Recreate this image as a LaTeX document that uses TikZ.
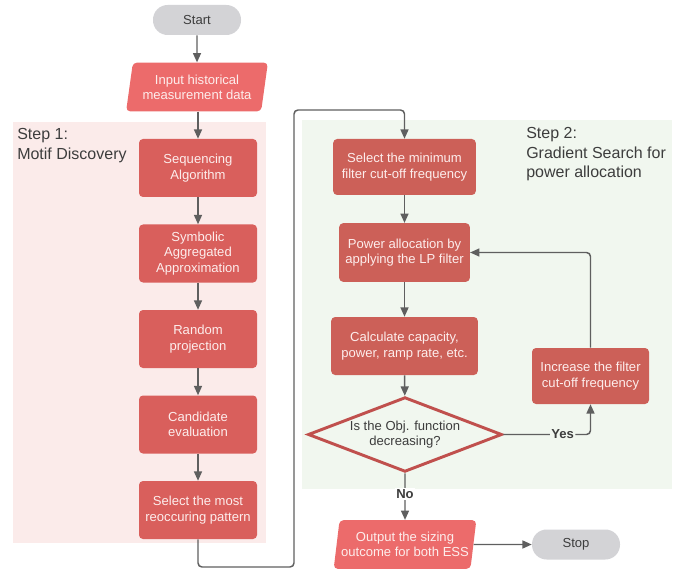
\documentclass[tikz,border=0pt]{standalone}
\usepackage{fontspec}
\setmainfont{Liberation Sans}
\usetikzlibrary{shapes.geometric,arrows.meta}

\definecolor{stepAbg}{HTML}{FBEBEA}
\definecolor{stepBbg}{HTML}{F1F7EF}
\definecolor{boxA}{HTML}{D95F5C}
\definecolor{boxB}{HTML}{CC6058}
\definecolor{ioRed}{HTML}{EC6B6B}
\definecolor{termGray}{HTML}{D3D3D6}
\definecolor{lineGray}{HTML}{5F5F5F}
\definecolor{boxText}{HTML}{FDEDEC}
\definecolor{darkText}{HTML}{3D3D3D}
\definecolor{decRed}{HTML}{C0504D}

\tikzset{
  boxfont/.style={font=\fontsize{9.8}{11.5}\selectfont},
  procA/.style={boxfont, rectangle, rounded corners=3pt, fill=boxA, text=boxText,
    align=center, minimum width=88.5pt, minimum height=43.5pt, inner sep=1pt},
  procB/.style={procA, fill=boxB},
  inout/.style={boxfont, trapezium, trapezium left angle=77, trapezium right angle=103,
    trapezium stretches=true, rounded corners=3pt, fill=ioRed, text=boxText,
    align=center, minimum width=107pt, minimum height=36.5pt, inner sep=0pt},
  term/.style={boxfont, rectangle, rounded corners=11pt, fill=termGray, text=darkText,
    minimum width=66pt, minimum height=22.5pt},
  decide/.style={boxfont, diamond, aspect=2.6, draw=decRed, line width=2.2pt, fill=stepBbg,
    text=darkText, align=center, inner sep=0pt, minimum width=145.5pt, minimum height=56pt},
  flow/.style={draw=lineGray, line width=1.1pt, -{Triangle[length=7pt,width=6pt]}},
  steplabel/.style={anchor=north west, align=left, text=darkText, inner sep=0pt,
    font=\fontsize{12}{14.8}\selectfont},
  answer/.style={boxfont, font=\fontsize{9.8}{11.5}\selectfont\bfseries, text=darkText, inner sep=1pt}
}

\begin{document}
\begin{tikzpicture}[x=0.75pt,y=0.75pt,yscale=-1,xscale=1]
\path (0,0) rectangle (692,570); %set diagram size 692 x 570

%Step backgrounds
\fill[stepAbg] (13,122) rectangle (266,543);
\fill[stepBbg] (302,120) rectangle (672,489);

% Text Node
\node (stepA) [steplabel] at (17,128) {Step 1:\\Motif Discovery};
% Text Node
\node (stepB) [steplabel] at (526,127) {Step 2:\\Gradient Search for\\power allocation};

%Terminals and data
\node (start) [term] at (197,20) {Start};
\node (input) [inout] at (197,87) {Input historical\\measurement data};

%Step 1 boxes
\node (seq) [procA] at (198,168) {Sequencing\\Algorithm};
\node (sax) [procA] at (198,253.5) {Symbolic\\Aggregated\\Approximation};
\node (proj) [procA] at (198,339) {Random\\projection};
\node (cand) [procA] at (198,424.5) {Candidate\\evaluation};
\node (motif) [procA] at (198,510) {Select the most\\reoccuring pattern};

%Step 2 boxes
\node (fmin) [procB, minimum width=107pt, minimum height=42pt] at (404.5,167) {Select the minimum\\filter cut-off frequency};
\node (alloc) [procB, minimum width=98pt, minimum height=44pt] at (404.5,252.5) {Power allocation by\\applying the LP filter};
\node (calc) [procB, minimum width=110pt] at (404.5,346) {Calculate capacity,\\power, ramp rate, etc.};
\node (dec) [decide] at (405,434.5) {Is the Obj. function\\decreasing?};
\node (incr) [procB, minimum width=87.75pt, minimum height=42pt] at (590.5,376) {Increase the filter\\cut-off frequency};

\node (output) [inout] at (405,544.5) {Output the sizing\\outcome for both ESS};
\node (stop) [term] at (576,544.5) {Stop};

%loop corners
\coordinate (loopA) at (294,567);
\coordinate (loopB) at (294,110);

%Straight Lines
\draw[flow] (start) -- (input);
\draw[flow] (input.south -| seq.north) -- (seq);
\draw[flow] (seq) -- (sax);
\draw[flow] (sax) -- (proj);
\draw[flow] (proj) -- (cand);
\draw[flow] (cand) -- (motif);
\draw[flow, rounded corners=3pt] (motif) |- (loopA) -- (loopB) -| (fmin);
\draw[flow] (fmin) -- (alloc);
\draw[flow] (alloc) -- (calc);
\draw[flow] (calc) -- (dec);
\draw[flow, rounded corners=3pt] (dec.east) -| node[pos=0.34, answer, fill=stepBbg] (yes) {Yes} (incr.south);
\draw[flow, rounded corners=3pt] (incr.north) |- (alloc.east);
\draw[flow] (dec.south) -- node[pos=0.45, answer, fill=white] (no) {No} (output.north);
\draw[flow] (output.east) -- (stop.west);

\end{tikzpicture}
\end{document}
